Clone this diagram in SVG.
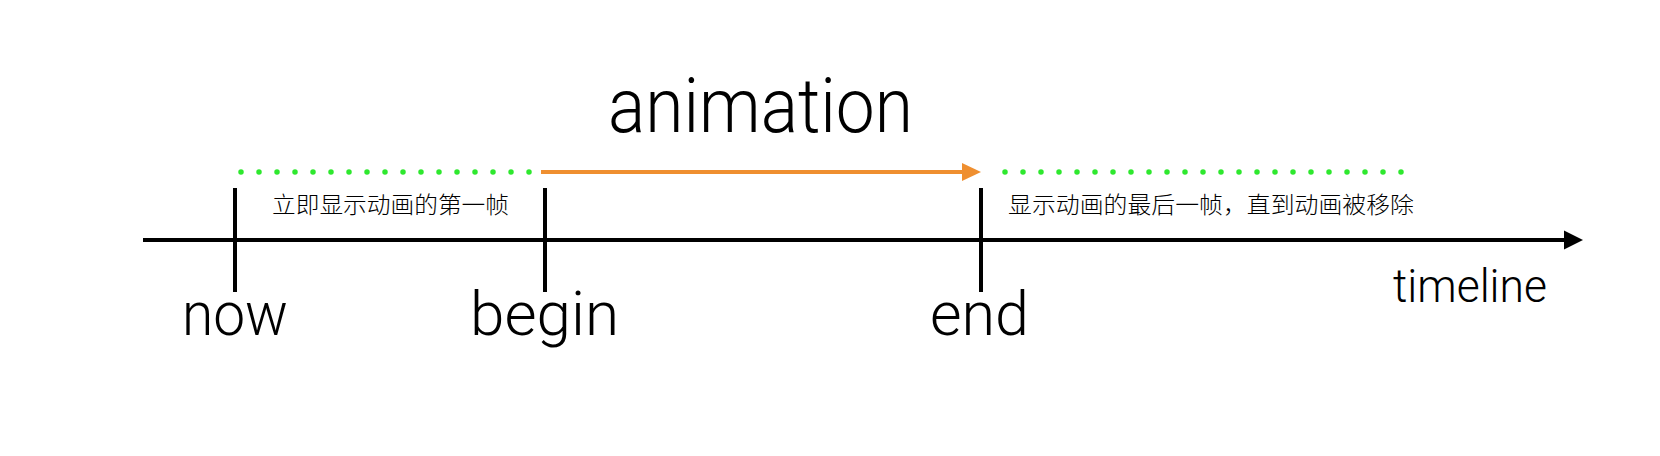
<svg xmlns="http://www.w3.org/2000/svg" width="1660" height="456" viewBox="0 0 1660 456">
  <style>
    .lbl { font-family: Roboto, "Liberation Sans", Arial, sans-serif; fill: #000; font-weight: 300; }
    .cjk { font-family: "Noto Sans CJK SC", sans-serif; font-size: 23px; fill: #000; font-weight: 300; }
    .axis { stroke: #000; stroke-width: 4; fill: none; }
    .tick { stroke: #000; stroke-width: 4; }
    .dots { stroke: #2EE82E; stroke-width: 5.5; stroke-linecap: round; stroke-dasharray: 0 18; fill: none; }
    .anim { stroke: #EF8F30; stroke-width: 4; fill: none; }
  </style>
  <defs>
    <marker id="blackArrow" markerUnits="userSpaceOnUse" markerWidth="20" markerHeight="20" refX="0" refY="10" orient="auto">
      <path d="M0,0.5 L19,10 L0,19.5 Z" fill="#000"/>
    </marker>
    <marker id="orangeArrow" markerUnits="userSpaceOnUse" markerWidth="20" markerHeight="20" refX="0" refY="10" orient="auto">
      <path d="M0,1 L19,10 L0,19 Z" fill="#EF8F30"/>
    </marker>
  </defs>
  <rect width="1660" height="456" fill="#fff"/>

  <g id="connectors">
    <line id="timeline-axis" class="axis" x1="143" y1="240" x2="1564" y2="240" marker-end="url(#blackArrow)"/>
    <line id="dots-before" class="dots" x1="241" y1="172" x2="530" y2="172"/>
    <line id="animation-arrow" class="anim" x1="541" y1="172" x2="962" y2="172" marker-end="url(#orangeArrow)"/>
    <line id="dots-after" class="dots" x1="1005" y1="172" x2="1402" y2="172"/>
  </g>

  <g id="node-now">
    <line class="tick" x1="235" y1="188" x2="235" y2="292"/>
    <text class="lbl" x="182" y="335" font-size="62" textLength="106" lengthAdjust="spacingAndGlyphs">now</text>
  </g>
  <g id="node-begin">
    <line class="tick" x1="545" y1="188" x2="545" y2="292"/>
    <text class="lbl" x="470" y="335" font-size="62" textLength="149" lengthAdjust="spacingAndGlyphs">begin</text>
  </g>
  <g id="node-end">
    <line class="tick" x1="981" y1="188" x2="981" y2="292"/>
    <text class="lbl" x="930" y="335" font-size="62" textLength="99" lengthAdjust="spacingAndGlyphs">end</text>
  </g>
  <g id="node-animation">
    <text class="lbl" x="608" y="132" font-size="76" textLength="305" lengthAdjust="spacingAndGlyphs">animation</text>
  </g>
  <g id="node-timeline">
    <text class="lbl" x="1393" y="302" font-size="46" textLength="154" lengthAdjust="spacingAndGlyphs">timeline</text>
  </g>
  <g id="note-first-frame">
    <text class="cjk" x="272" y="213" textLength="237" lengthAdjust="spacingAndGlyphs">立即显示动画的第一帧</text>
  </g>
  <g id="note-last-frame">
    <text class="cjk" x="1008" y="213" textLength="406" lengthAdjust="spacingAndGlyphs">显示动画的最后一帧，直到动画被移除</text>
  </g>
</svg>
